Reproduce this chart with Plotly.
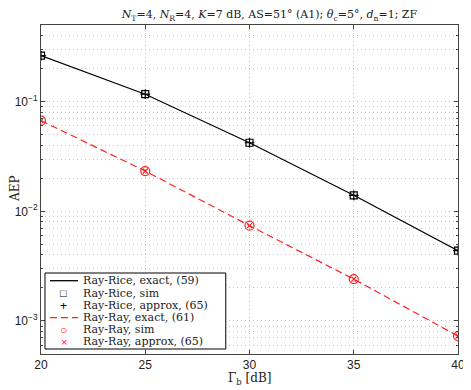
import plotly.graph_objects as go

gamma_b = [20, 25, 30, 35, 40]
rice_exact = [0.263, 0.117, 0.0422, 0.0140, 0.00438]
rice_sim = [0.263, 0.117, 0.0422, 0.0140, 0.00438]
rice_approx = [0.263, 0.117, 0.0422, 0.0140, 0.00438]
ray_exact = [0.0671, 0.0233, 0.00740, 0.00241, 0.000728]
ray_sim = [0.0671, 0.0233, 0.00740, 0.00241, 0.000728]
ray_approx = [0.0671, 0.0233, 0.00740, 0.00241, 0.000728]

y_major = [1e-3, 1e-2, 1e-1]
y_major_text = ["10<sup>−3</sup>", "10<sup>−2</sup>", "10<sup>−1</sup>"]
x_ticks = [20, 25, 30, 35, 40]

legend_labels = ["Ray-Rice, exact, (59)", "Ray-Rice, sim", "Ray-Rice, approx, (65)",
                 "Ray-Ray, exact, (61)", "Ray-Ray, sim", "Ray-Ray, approx, (65)"]

serif = "DejaVu Serif"
sans = "Liberation Sans"
red = "#ff2020"
txt = "#222"
grid = "#c4c4c4"

W, H = 471, 390
OFF = 8  # page body margin offset
# plot area in screen pixels
SX0, SX1, SY0, SY1 = 41, 458.5, 25, 354
L = SX0 - OFF
T = SY0 - OFF
R = W - (SX1 - OFF)
B = H - (SY1 - OFF)
PW, PH = SX1 - SX0, SY1 - SY0


def px(sx):
    return (sx - SX0) / PW


def py(sy):
    return (SY1 - sy) / PH


fig = go.Figure()
fig.add_trace(go.Scatter(x=gamma_b, y=rice_exact, mode="lines",
                         line=dict(color="black", width=1.2),
                         name=legend_labels[0]))
fig.add_trace(go.Scatter(x=gamma_b, y=rice_sim, mode="markers",
                         marker=dict(symbol="square-open", size=7, color="black",
                                     line=dict(width=1.2)),
                         name=legend_labels[1]))
fig.add_trace(go.Scatter(x=gamma_b, y=rice_approx, mode="markers",
                         marker=dict(symbol="cross-thin-open", size=7, color="black",
                                     line=dict(width=1.2, color="black")),
                         name=legend_labels[2]))
fig.add_trace(go.Scatter(x=gamma_b, y=ray_exact, mode="lines",
                         line=dict(color=red, width=1.2, dash="7px,4px"),
                         name=legend_labels[3]))
fig.add_trace(go.Scatter(x=gamma_b, y=ray_sim, mode="markers",
                         marker=dict(symbol="circle-open", size=9, color=red,
                                     line=dict(width=1.2)),
                         name=legend_labels[4]))
fig.add_trace(go.Scatter(x=gamma_b, y=ray_approx, mode="markers",
                         marker=dict(symbol="x-thin-open", size=5, color=red,
                                     line=dict(width=1.2, color=red)),
                         name=legend_labels[5]))

y_minor = []
for e in [1e-4, 1e-3, 1e-2, 1e-1]:
    for m in range(2, 10):
        v = m * e
        if 5e-4 <= v <= 0.5:
            y_minor.append(v)

# compact legend (box, line samples, glyphs, labels)
shapes = [dict(type="rect", xref="paper", yref="paper",
               x0=px(45), x1=px(226), y0=py(349), y1=py(273),
               fillcolor="white", line=dict(color="black", width=1), layer="above")]
annotations = []
row_y = [280.7, 293.2, 305.5, 317.6, 329.8, 341.5]
glyphs = [None, ("□", "black", 11), ("+", "black", 12), None, ("○", red, 12), ("×", red, 11)]
for i, lab in enumerate(legend_labels):
    yy = row_y[i]
    if i == 0:
        shapes.append(dict(type="line", xref="paper", yref="paper", x0=px(50), x1=px(78),
                           y0=py(yy), y1=py(yy), line=dict(color="black", width=1.3),
                           layer="above"))
    elif i == 3:
        shapes.append(dict(type="line", xref="paper", yref="paper", x0=px(50), x1=px(78),
                           y0=py(yy), y1=py(yy), line=dict(color=red, width=1.3, dash="7px,4px"),
                           layer="above"))
    else:
        g, c, s = glyphs[i]
        annotations.append(dict(xref="paper", yref="paper", x=px(64), y=py(yy),
                                text=g, showarrow=False, xanchor="center", yanchor="middle",
                                borderpad=0,
                                font=dict(family=sans, size=s, color=c)))
    annotations.append(dict(xref="paper", yref="paper", x=px(82), y=py(yy),
                            text=lab, showarrow=False, xanchor="left", yanchor="middle",
                            borderpad=0,
                            font=dict(family=serif, size=11, color=txt)))

annotations.append(dict(xref="paper", yref="paper", x=px(15), y=py(189), text="AEP",
                        textangle=-90, showarrow=False, xanchor="center", yanchor="middle",
                        borderpad=0,
                        font=dict(family=serif, size=12, color=txt)))
annotations.append(dict(xref="paper", yref="paper", x=px(250), y=py(379),
                        text="Γ<sub>b</sub> [dB]", showarrow=False,
                        xanchor="center", yanchor="middle", borderpad=0,
                        font=dict(family=serif, size=12, color=txt)))

fig.update_layout(
    width=W, height=H,
    margin=dict(l=L, r=R, t=T, b=B),
    paper_bgcolor="white", plot_bgcolor="white",
    showlegend=False,
    title=dict(
        text="<i>N</i><sub>T</sub>=4, <i>N</i><sub>R</sub>=4, <i>K</i>=7 dB, AS=51° (A1); "
             "<i>θ</i><sub>c</sub>=5°, <i>d</i><sub>n</sub>=1; ZF",
        x=(266 - OFF) / W, xanchor="center", xref="paper",
        y=1 - 6.5 / H, yanchor="middle",
        font=dict(family=serif, size=11, color=txt)),
    shapes=shapes,
    annotations=annotations,
    xaxis=dict(range=[20, 40], tickvals=x_ticks, ticks="inside", ticklen=4,
               showline=True, linecolor="#444", linewidth=1, mirror="allticks",
               showgrid=True, gridcolor=grid, griddash="1px,3px", gridwidth=1,
               zeroline=False, automargin=False,
               tickfont=dict(family=sans, size=12, color=txt)),
    yaxis=dict(type="log", range=[-3.30103, -0.30103], tickvals=y_major, ticktext=y_major_text,
               ticks="inside", ticklen=4,
               showline=True, linecolor="#444", linewidth=1, mirror="allticks",
               showgrid=True, gridcolor=grid, griddash="1px,3px", gridwidth=1,
               zeroline=False, automargin=False,
               tickfont=dict(family=sans, size=12, color=txt),
               minor=dict(tickvals=y_minor, ticks="inside", ticklen=2, showgrid=True,
                          gridcolor=grid, griddash="1px,3px", gridwidth=1)),
)

fig.write_html("out.html")
